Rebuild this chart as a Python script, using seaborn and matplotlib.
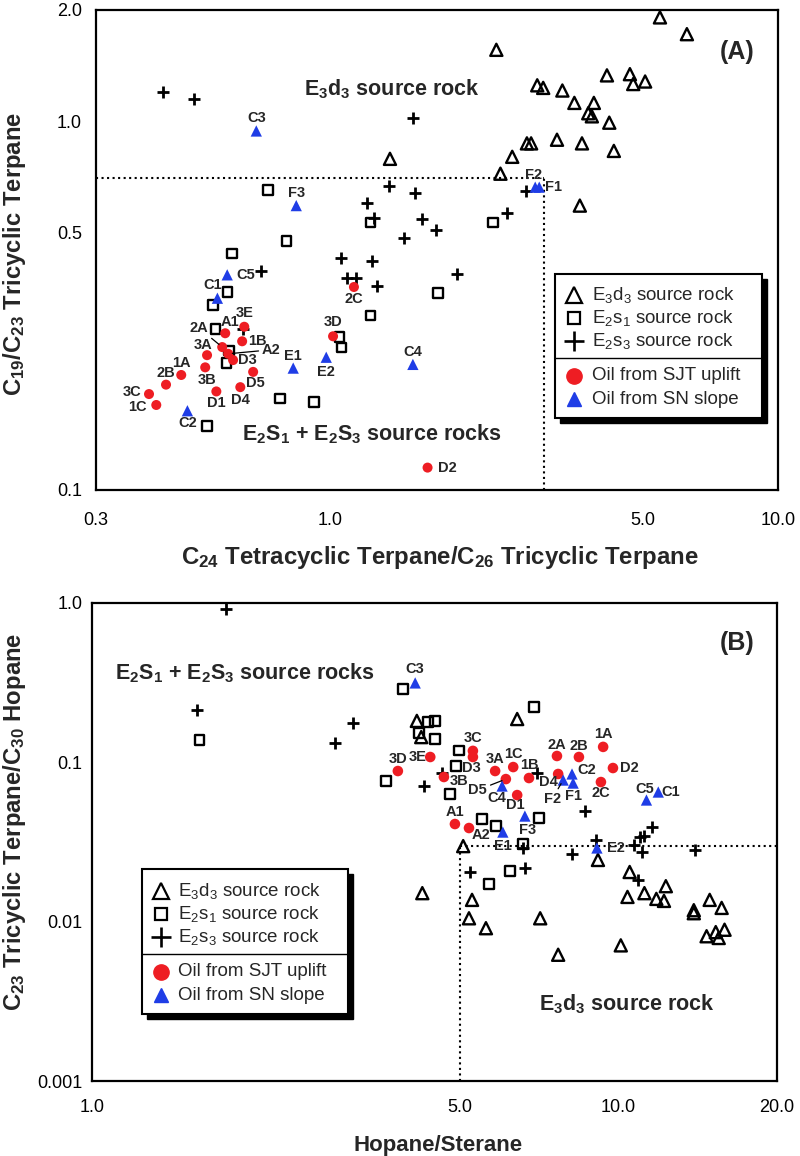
import matplotlib
matplotlib.use('Agg')
import matplotlib.pyplot as plt
import seaborn as sns
from matplotlib.lines import Line2D
from matplotlib.patches import Rectangle
from matplotlib.ticker import FixedLocator, FixedFormatter, NullFormatter

RED = '#ee1d23'
BLUE = '#1f3de6'

# ---------------- Panel A: C24 Tet/C26 TT vs C19/C23 TT ----------------
a_e3d3_x = [5.45, 6.26, 2.35, 2.90, 2.99, 3.30, 4.15, 4.67, 4.75, 5.05, 3.51, 3.88,
            3.77, 3.84, 4.20, 2.75, 2.81, 3.21, 3.65, 4.30, 2.55, 2.40, 3.61, 1.36]
a_e3d3_y = [1.91, 1.72, 1.56, 1.25, 1.23, 1.21, 1.33, 1.34, 1.26, 1.28, 1.12, 1.12,
            1.05, 1.03, 0.99, 0.87, 0.87, 0.89, 0.87, 0.83, 0.80, 0.72, 0.59, 0.79]
a_e2s1_x = [0.727, 0.798, 1.23, 2.31, 0.604, 0.589, 0.548, 0.554, 0.595, 0.586, 1.23,
            1.05, 1.06, 1.74, 0.773, 0.921, 0.531]
a_e2s1_y = [0.650, 0.473, 0.530, 0.530, 0.437, 0.344, 0.317, 0.273, 0.239, 0.221, 0.297,
            0.260, 0.243, 0.342, 0.177, 0.173, 0.149]
a_e2s3_x = [0.424, 0.497, 1.53, 1.35, 1.55, 1.21, 1.25, 1.60, 1.72, 1.46, 2.48, 2.74,
            1.06, 1.24, 1.09, 1.14, 1.27, 1.92, 0.702, 0.639]
a_e2s3_y = [1.20, 1.15, 1.02, 0.667, 0.638, 0.600, 0.546, 0.542, 0.507, 0.482, 0.563,
            0.646, 0.425, 0.417, 0.376, 0.376, 0.357, 0.385, 0.392, 0.273]
a_sjt_names = ['A1', '2A', '3E', '1B', 'A2', 'D3', '3A', '3B', '1A', '2B', '3C', '1C',
               'D1', 'D4', 'D5', '3D', '2C', 'D2']
a_sjt_x = [0.583, 0.574, 0.643, 0.636, 0.592, 0.607, 0.531, 0.526, 0.465, 0.430, 0.394,
           0.409, 0.557, 0.630, 0.673, 1.015, 1.13, 1.65]
a_sjt_y = [0.266, 0.244, 0.277, 0.253, 0.234, 0.225, 0.232, 0.215, 0.205, 0.193, 0.182,
           0.170, 0.185, 0.190, 0.209, 0.261, 0.355, 0.115]
a_sn_names = ['C3', 'F3', 'F2', 'F1', 'C1', 'C5', 'E1', 'E2', 'C4', 'C2']
a_sn_x = [0.684, 0.840, 2.87, 2.93, 0.560, 0.589, 0.827, 0.980, 1.53, 0.480]
a_sn_y = [0.94, 0.59, 0.662, 0.662, 0.331, 0.383, 0.214, 0.229, 0.219, 0.164]

# ---------------- Panel B: Hopane/Sterane vs C23 TT/C30 hopane ----------------
b_e3d3_x = [4.14, 4.22, 6.42, 5.07, 9.14, 10.5, 4.24, 5.27, 5.20, 5.60, 7.10, 7.68, 10.1,
            10.4, 11.2, 11.8, 12.2, 12.3, 13.9, 13.9, 14.9, 15.7, 14.7, 15.3, 15.5, 15.9]
b_e3d3_y = [0.182, 0.144, 0.187, 0.0298, 0.0244, 0.0205, 0.0151, 0.0137, 0.0105, 0.0091,
            0.0105, 0.0062, 0.0071, 0.0143, 0.0151, 0.0139, 0.0135, 0.0167, 0.0118, 0.0113,
            0.0137, 0.0122, 0.0081, 0.0086, 0.0079, 0.0089]
b_e2s1_x = [1.60, 3.90, 3.62, 4.35, 4.48, 4.18, 4.48, 6.91, 4.98, 4.91, 4.79, 5.50, 5.85,
            7.06, 6.59, 6.22, 5.68]
b_e2s1_y = [0.138, 0.289, 0.0763, 0.179, 0.182, 0.153, 0.140, 0.222, 0.119, 0.0948, 0.0632,
            0.0441, 0.0398, 0.0447, 0.0307, 0.0208, 0.0172]
b_e2s3_x = [1.80, 1.58, 3.13, 2.89, 4.27, 4.62, 7.00, 8.64, 11.6, 11.2, 11.0, 10.7, 11.1,
            6.59, 8.16, 9.06, 14.0, 5.22, 6.64, 10.9]
b_e2s3_y = [0.917, 0.213, 0.177, 0.132, 0.0710, 0.0857, 0.0857, 0.0495, 0.0392, 0.0345,
            0.0340, 0.0303, 0.0273, 0.0290, 0.0266, 0.0325, 0.0281, 0.0205, 0.0217, 0.0183]
b_sjt_names = ['3D', '3E', '3C', 'D3', '3B', '3A', '1C', '1B', 'D5', 'D1', 'D4', '2A',
               '2B', '1A', 'D2', '2C', 'A1', 'A2']
b_sjt_x = [3.81, 4.39, 5.29, 5.29, 4.66, 5.83, 6.31, 6.76, 6.11, 6.42, 7.68, 7.64, 8.41,
           9.35, 9.76, 9.26, 4.89, 5.20]
b_sjt_y = [0.0882, 0.108, 0.118, 0.108, 0.0809, 0.0882, 0.0934, 0.0797, 0.0785, 0.0623,
           0.0845, 0.1096, 0.108, 0.125, 0.0921, 0.0752, 0.0410, 0.0387]
b_sn_names = ['C3', 'C4', 'C2', 'F2', 'F1', 'C5', 'C1', 'E1', 'F3', 'E2']
b_sn_x = [4.11, 6.01, 8.16, 7.85, 8.20, 11.3, 11.9, 6.03, 6.64, 9.10]
b_sn_y = [0.315, 0.0710, 0.0845, 0.0774, 0.0741, 0.0580, 0.0651, 0.0365, 0.0460, 0.0290]

# label offsets in pixels (dx right, dy down)
a_offsets = {'A1': (5, -11), '2A': (-23, -19), '3E': (0, -14), '1B': (15, 0), 'A2': (43, -4),
             'D3': (14, 0), '3A': (-4, -10), '3B': (2, 13), '1A': (0, -12), '2B': (0, -12),
             '3C': (-17, -2), '1C': (-19, 2), 'D1': (0, 12), 'D4': (0, 13), 'D5': (2, 11),
             '3D': (0, -14), '2C': (0, 12), 'D2': (20, 0),
             'C3': (0, -13), 'F3': (0, -13), 'F2': (-2, -12), 'F1': (14, 0), 'C1': (-5, -13),
             'C5': (19, 0), 'E1': (0, -12), 'E2': (0, 15), 'C4': (0, -12), 'C2': (0, 12)}
b_sjt_offsets = {'3D': (0, -12), '3E': (-13, 0), '3C': (0, -13), 'D3': (-2, 11), '3B': (15, 4),
                 '3A': (0, -12), '1C': (0, -13), '1B': (0, -13), 'D5': (-28, 11), 'D1': (-2, 10),
                 'D4': (-10, 8), '2A': (0, -11), '2B': (0, -11), '1A': (0, -13), 'D2': (16, 0),
                 '2C': (0, 11), 'A1': (0, -12), 'A2': (12, 7)}
b_sn_offsets = {'C3': (0, -14), 'C4': (-5, 12), 'C2': (15, -4), 'F2': (-11, 19), 'F1': (0, 13),
                'C5': (-2, -11), 'C1': (12, 0), 'E1': (0, 14), 'F3': (3, 14), 'E2': (19, 0)}

sns.set_style('white')
plt.rcParams['font.family'] = ['Liberation Sans', 'DejaVu Sans']
plt.rcParams['mathtext.fontset'] = 'custom'
plt.rcParams['mathtext.rm'] = 'Liberation Sans'
plt.rcParams['mathtext.bf'] = 'Liberation Sans:bold'
plt.rcParams['mathtext.default'] = 'regular'

W, H = 800, 1156
fig = plt.figure(figsize=(8, 11.56), dpi=100)
ax_a = fig.add_axes([96 / W, 1 - 490 / H, 682 / W, 480 / H])
ax_b = fig.add_axes([92 / W, 1 - 1081 / H, 685 / W, 478 / H])


def draw_points(ax, e3d3, e2s1, e2s3, sjt, sn, s_oil):
    sns.scatterplot(x=e3d3[0], y=e3d3[1], ax=ax, marker='^', s=76, facecolor='none',
                    edgecolor='k', linewidth=1.7, zorder=3)
    sns.scatterplot(x=e2s1[0], y=e2s1[1], ax=ax, marker='s', s=46, facecolor='none',
                    edgecolor='k', linewidth=1.7, zorder=3)
    sns.scatterplot(x=e2s3[0], y=e2s3[1], ax=ax, marker='+', s=85, color='k',
                    linewidth=2.0, zorder=3)
    sns.scatterplot(x=sjt[0], y=sjt[1], ax=ax, marker='o', s=s_oil, color=RED,
                    edgecolor='none', zorder=4)
    sns.scatterplot(x=sn[0], y=sn[1], ax=ax, marker='^', s=66, color=BLUE,
                    edgecolor='none', zorder=4)


def label_points(ax, names, xs, ys, offsets, leaders=()):
    for n, x, y in zip(names, xs, ys):
        dx, dy = offsets[n]
        kw = {}
        if n in leaders:
            kw['arrowprops'] = dict(arrowstyle='-', color='k', lw=0.9, shrinkA=0, shrinkB=3)
        ax.annotate(n, (x, y), xytext=(dx * 0.72, -dy * 0.72), textcoords='offset points',
                    ha='center', va='center', fontsize=10.5, fontweight='bold', zorder=6, **kw)


def style_axis(ax, xlim, ylim, xmaj, xlab, xmin, ymaj, ylab, ymin, xpad, ypad):
    ax.set_xscale('log')
    ax.set_yscale('log')
    ax.set_xlim(*xlim)
    ax.set_ylim(*ylim)
    ax.xaxis.set_major_locator(FixedLocator(xmaj))
    ax.xaxis.set_major_formatter(FixedFormatter(xlab))
    ax.xaxis.set_minor_locator(FixedLocator(xmin))
    ax.xaxis.set_minor_formatter(NullFormatter())
    ax.yaxis.set_major_locator(FixedLocator(ymaj))
    ax.yaxis.set_major_formatter(FixedFormatter(ylab))
    ax.yaxis.set_minor_locator(FixedLocator(ymin))
    ax.yaxis.set_minor_formatter(NullFormatter())
    ax.tick_params(which='both', direction='in', top=False, right=False, width=1.5,
                   labelsize=13, colors='k')
    ax.tick_params(which='major', length=12)
    ax.tick_params(which='minor', length=7)
    ax.tick_params(axis='x', which='major', pad=xpad)
    ax.tick_params(axis='y', which='major', pad=ypad)
    for sp in ax.spines.values():
        sp.set_linewidth(1.6)
        sp.set_color('k')
        sp.set_visible(True)


def draw_legend(box, sep_y, mark_x, text_x, rows):
    def fx(px):
        return px / W

    def fy(py):
        return 1 - py / H
    x0, y0, x1, y1 = box
    fig.add_artist(Rectangle((fx(x0 + 5), fy(y1 + 5)), (x1 - x0) / W, (y1 - y0) / H,
                             transform=fig.transFigure, facecolor='k', edgecolor='k', zorder=10))
    fig.add_artist(Rectangle((fx(x0), fy(y1)), (x1 - x0) / W, (y1 - y0) / H,
                             transform=fig.transFigure, facecolor='white', edgecolor='k',
                             lw=1.5, zorder=11))
    fig.add_artist(Line2D([fx(x0), fx(x1)], [fy(sep_y)] * 2, transform=fig.transFigure,
                          color='k', lw=1.0, zorder=12))
    keys = [dict(marker='^', mfc='none', mec='k', mew=1.6, ms=12),
            dict(marker='s', mfc='none', mec='k', mew=1.6, ms=9),
            dict(marker='+', mec='k', mew=1.9, ms=14),
            dict(marker='o', mfc=RED, mec=RED, ms=11),
            dict(marker='^', mfc=BLUE, mec=BLUE, ms=10)]
    labels = [r'$\mathregular{E_3d_3}$ source rock', r'$\mathregular{E_2s_1}$ source rock',
              r'$\mathregular{E_2s_3}$ source rock', 'Oil from SJT uplift', 'Oil from SN slope']
    for k, lab, r in zip(keys, labels, rows):
        fig.add_artist(Line2D([fx(mark_x)], [fy(r)], transform=fig.transFigure, ls='none',
                              zorder=12, **k))
        fig.text(fx(text_x), fy(r), lab, ha='left', va='center', fontsize=13.5, zorder=12)


# ---- Panel A ----
draw_points(ax_a, (a_e3d3_x, a_e3d3_y), (a_e2s1_x, a_e2s1_y), (a_e2s3_x, a_e2s3_y),
            (a_sjt_x, a_sjt_y), (a_sn_x, a_sn_y), 52)
label_points(ax_a, a_sjt_names, a_sjt_x, a_sjt_y, a_offsets, leaders=('2A', 'A2'))
label_points(ax_a, a_sn_names, a_sn_x, a_sn_y, a_offsets)
ax_a.plot([0.3, 3.0], [0.7, 0.7], ls=':', color='k', lw=1.5, zorder=2)
ax_a.plot([3.0, 3.0], [0.1, 0.7], ls=':', color='k', lw=1.5, zorder=2)
style_axis(ax_a, (0.3, 10), (0.1, 2.0),
           [0.3, 1, 5, 10], ['0.3', '1.0', '5.0', '10.0'],
           [0.4, 0.5, 0.6, 0.7, 0.8, 0.9, 2, 3, 4, 6, 7, 8, 9],
           [0.1, 0.5, 1, 2], ['0.1', '0.5', '1.0', '2.0'],
           [0.2, 0.3, 0.4, 0.6, 0.7, 0.8, 0.9], 16, 10)
ax_a.set_xlabel(r'$\mathregular{C_{24}}$ Tetracyclic Terpane/$\mathregular{C_{26}}$ Tricyclic Terpane',
                fontsize=17.3, fontweight='bold')
ax_a.set_ylabel(r'$\mathregular{C_{19}/C_{23}}$ Tricyclic Terpane', fontsize=17.2, fontweight='bold')
ax_a.xaxis.set_label_coords(0.504, -0.113)
ax_a.yaxis.set_label_coords(-0.100, 0.492)
ax_a.text(0.434, 0.835, r'$\mathregular{E_3d_3}$ source rock', transform=ax_a.transAxes,
          ha='center', va='center', fontsize=15.5, fontweight='bold')
ax_a.text(0.405, 0.117, r'$\mathregular{E_2S_1}$ + $\mathregular{E_2S_3}$ source rocks',
          transform=ax_a.transAxes, ha='center', va='center', fontsize=15.5, fontweight='bold')
ax_a.text(0.94, 0.9125, '(A)', transform=ax_a.transAxes, ha='center', va='center',
          fontsize=18, fontweight='bold')
draw_legend((555, 274, 762, 418), 358, 574, 592, [295, 318, 341, 376, 399])

# ---- Panel B ----
draw_points(ax_b, (b_e3d3_x, b_e3d3_y), (b_e2s1_x, b_e2s1_y), (b_e2s3_x, b_e2s3_y),
            (b_sjt_x, b_sjt_y), (b_sn_x, b_sn_y), 58)
label_points(ax_b, b_sjt_names, b_sjt_x, b_sjt_y, b_sjt_offsets, leaders=('D5',))
label_points(ax_b, b_sn_names, b_sn_x, b_sn_y, b_sn_offsets, leaders=('F2',))
ax_b.plot([5.0, 5.0], [0.001, 0.03], ls=':', color='k', lw=1.5, zorder=2)
ax_b.plot([5.0, 20.0], [0.03, 0.03], ls=':', color='k', lw=1.5, zorder=2)
style_axis(ax_b, (1.0, 20.0), (0.001, 1.0),
           [1, 5, 10, 20], ['1.0', '5.0', '10.0', '20.0'],
           [2, 3, 4, 6, 7, 8, 9],
           [0.001, 0.01, 0.1, 1.0], ['0.001', '0.01', '0.1', '1.0'],
           [0.002, 0.003, 0.004, 0.005, 0.006, 0.007, 0.008, 0.009,
            0.02, 0.03, 0.04, 0.05, 0.06, 0.07, 0.08, 0.09,
            0.2, 0.3, 0.4, 0.5, 0.6, 0.7, 0.8, 0.9], 13, 7)
ax_b.set_xlabel('Hopane/Sterane', fontsize=16, fontweight='bold')
ax_b.set_ylabel(r'$\mathregular{C_{23}}$ Tricyclic Terpane/$\mathregular{C_{30}}$ Hopane',
                fontsize=17.2, fontweight='bold')
ax_b.xaxis.set_label_coords(0.505, -0.113)
ax_b.yaxis.set_label_coords(-0.094, 0.542)
ax_b.text(0.223, 0.854, r'$\mathregular{E_2S_1}$ + $\mathregular{E_2S_3}$ source rocks',
          transform=ax_b.transAxes, ha='center', va='center', fontsize=15.5, fontweight='bold')
ax_b.text(0.781, 0.161, r'$\mathregular{E_3d_3}$ source rock', transform=ax_b.transAxes,
          ha='center', va='center', fontsize=15.5, fontweight='bold')
ax_b.text(0.942, 0.916, '(B)', transform=ax_b.transAxes, ha='center', va='center',
          fontsize=18, fontweight='bold')
draw_legend((142, 869, 348, 1014), 954, 161, 178, [891, 914, 937, 972, 995])

fig.savefig('out.png', dpi=100)
